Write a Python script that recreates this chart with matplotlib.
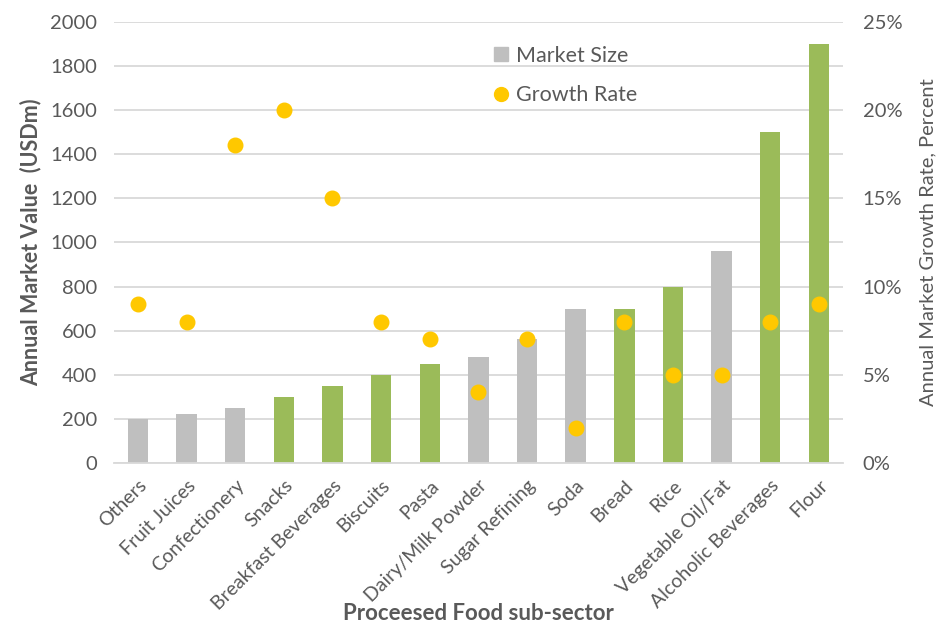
import matplotlib
matplotlib.use("Agg")
import matplotlib.pyplot as plt
from matplotlib.ticker import PercentFormatter

plt.rcParams['font.family'] = ['Lato', 'DejaVu Sans']

sectors = ["Others", "Fruit Juices", "Confectionery", "Snacks", "Breakfast Beverages",
           "Biscuits", "Pasta", "Dairy/Milk Powder", "Sugar Refining", "Soda",
           "Bread", "Rice", "Vegetable Oil/Fat", "Alcoholic Beverages", "Flour"]
market_size = [200, 220, 250, 300, 350, 400, 450, 480, 560, 700, 700, 800, 960, 1500, 1900]
growth_rate = [9, 8, 18, 20, 15, 8, 7, 4, 7, 2, 8, 5, 5, 8, 9]
highlight = [False, False, False, True, True, True, True, False, False, False,
             True, True, False, True, True]

grey = "#BFBFBF"
green = "#9BBB59"
gold = "#FFC800"
txt = "#595959"

fig = plt.figure(figsize=(9.39, 6.27), dpi=100)
ax = fig.add_axes([0.121, 0.2616, 0.777, 0.7034])
ax2 = ax.twinx()

x = range(len(sectors))
colors = [green if h else grey for h in highlight]
ax.bar(x, market_size, width=0.42, color=colors, zorder=2)
ax2.scatter(x, growth_rate, s=110, color=gold, zorder=3)

ax.set_ylim(0, 2000)
ax.set_yticks(range(0, 2001, 200))
ax2.set_ylim(0, 25)
ax2.set_yticks(range(0, 26, 5))
ax2.yaxis.set_major_formatter(PercentFormatter(decimals=0))
ax.set_xlim(-0.5, len(sectors) - 0.5)

ax.grid(axis='y', color='#D9D9D9', linewidth=1.3, zorder=0)
ax.set_axisbelow(True)
for a in (ax, ax2):
    for s in a.spines.values():
        s.set_visible(False)
    a.tick_params(length=0, labelsize=14.5, colors=txt)
ax.spines['bottom'].set_visible(True)
ax.spines['bottom'].set_color('#D9D9D9')
ax.spines['bottom'].set_linewidth(1.3)

ax.set_xticks(list(x))
ax.set_xticklabels(sectors, rotation=45, ha='right', rotation_mode='anchor', fontsize=14)
ax.tick_params(axis='x', pad=10)
ax.tick_params(axis='y', pad=12)
ax2.tick_params(axis='y', pad=14)

ax.set_ylabel("Annual Market Value  (USDm)", fontsize=15.5, fontweight='bold', color=txt, labelpad=6)
ax2.set_ylabel("Annual Market Growth Rate, Percent", fontsize=14.5, color=txt, labelpad=12)
ax.set_xlabel("Proceesed Food sub-sector", fontsize=16, fontweight='bold', color=txt)
ax.xaxis.set_label_coords(0.5, -0.317)

h1 = plt.Line2D([], [], marker='s', linestyle='none', color=grey, markersize=10)
h2 = plt.Line2D([], [], marker='o', linestyle='none', color=gold, markersize=10)
ax2.legend([h1, h2], ["Market Size", "Growth Rate"], loc='upper left',
           bbox_to_anchor=(0.49, 0.99), frameon=False, fontsize=15.5,
           labelcolor=txt, handletextpad=0.2, labelspacing=0.9, handlelength=1.0)

fig.savefig("out.png", dpi=100)
